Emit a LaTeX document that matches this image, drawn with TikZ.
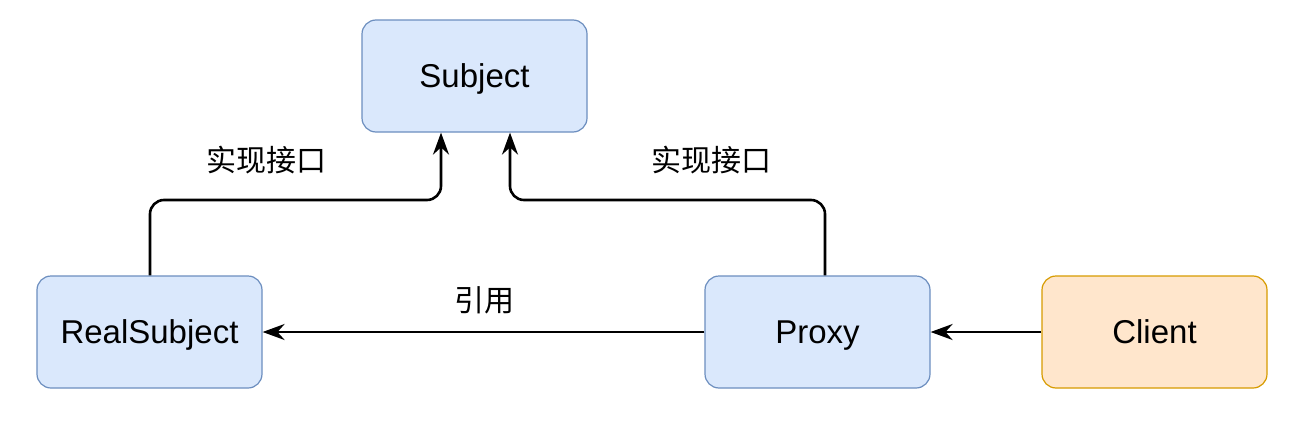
\documentclass[tikz,border=0pt]{standalone}
\usepackage{fontspec}
\setmainfont{Liberation Sans}
\newfontfamily\cjk{Noto Sans CJK SC}
\usetikzlibrary{arrows.meta}
\definecolor{bfill}{HTML}{DAE8FC}\definecolor{bline}{HTML}{6C8EBF}
\definecolor{ofill}{HTML}{FFE6CC}\definecolor{oline}{HTML}{D79B00}
\begin{document}
\begin{tikzpicture}[x=1pt,y=-1pt,
 box/.style={draw=bline,fill=bfill,line width=1.2pt,rounded corners=14pt,minimum width=225pt,minimum height=112pt,font=\fontsize{33}{37}\selectfont,text height=22pt,text depth=0pt},
 obox/.style={box,draw=oline,fill=ofill},
 conn/.style={line width=2.6pt,rounded corners=14pt,-{Stealth[length=22pt,width=16pt]}},
 lbl/.style={font=\cjk\fontsize{30}{33}\selectfont}]
\useasboundingbox (0,0) rectangle (1301,447);
\node[box] (s) at (474.5,76) {Subject};
\node[box] (r) at (149.5,332) {RealSubject};
\node[box] (p) at (817.5,332) {Proxy};
\node[obox] (c) at (1154.5,332) {Client};
\draw[conn] (r.north -| 150,0) -- (150,200) -- (441,200) -- (s.south -| 441,0);
\draw[conn] (p.north -| 825,0) -- (825,200) -- (510,200) -- (s.south -| 510,0);
\draw[conn] (p) -- (r);
\draw[conn] (c) -- (p);
\node[lbl] (l1) at (266,160) {实现接口};
\node[lbl] (l2) at (711,160) {实现接口};
\node[lbl] (l3) at (484,300) {引用};
\end{tikzpicture}
\end{document}
